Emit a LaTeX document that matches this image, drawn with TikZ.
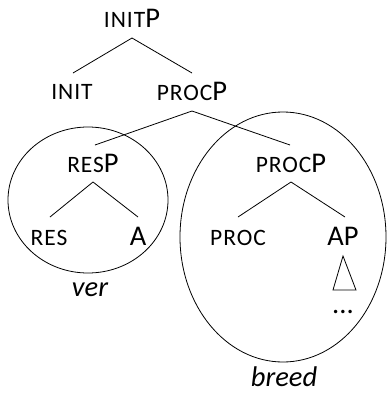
\documentclass[tikz,border=0pt]{standalone}
\usepackage{fontspec}
\setmainfont{Carlito}
\newcommand{\mysc}[1]{{\fontsize{23.5}{26}\selectfont\addfontfeature{LetterSpace=4}#1}}
\begin{document}
\begin{tikzpicture}[x=1pt,y=-1pt,
  lab/.style={inner sep=0pt,font=\fontsize{28.5}{32}\selectfont},
  it/.style={lab,font=\fontsize{28.5}{32}\selectfont\itshape},
  br/.style={line width=0.8pt},
  circ/.style={line width=0.8pt}]
\useasboundingbox (0,0) rectangle (387,394);
\node[lab] (initp) at (132,18) {\mysc{INIT}P};
\node[lab] (init) at (72,92) {\mysc{INIT}};
\node[lab] (procp) at (192,91) {\mysc{PROC}P};
\node[lab] (resp) at (93,163) {\mysc{RES}P};
\node[lab] (procp2) at (291,163) {\mysc{PROC}P};
\node[lab] (res) at (49,238) {\mysc{RES}};
\node[lab] (a) at (138,236) {A};
\node[lab] (proc) at (238,238) {\mysc{PROC}};
\node[lab] (ap) at (343,236) {AP};
\node[lab] (dots) at (343,312) {...};
\node[it] (ver) at (90,290) {ver};
\node[it] (breed) at (284,377) {breed};
\coordinate (t1) at (132,38);
\coordinate (t2) at (192,111);
\coordinate (t3) at (93,182);
\coordinate (t4) at (291,182);
\draw[br] (t1) -- (73,73) (t1) -- (192,73);
\draw[br] (t2) -- (95,145) (t2) -- (290,145);
\draw[br] (t3) -- (50,217) (t3) -- (138,217);
\draw[br] (t4) -- (238,217) (t4) -- (345,217);
\draw[br] (343,256) -- (333,290) -- (356,290) -- cycle;
\draw[circ] (88,200) ellipse [x radius=80,y radius=73];
\draw[circ] (283,237) ellipse [x radius=103,y radius=125];
\end{tikzpicture}
\end{document}
